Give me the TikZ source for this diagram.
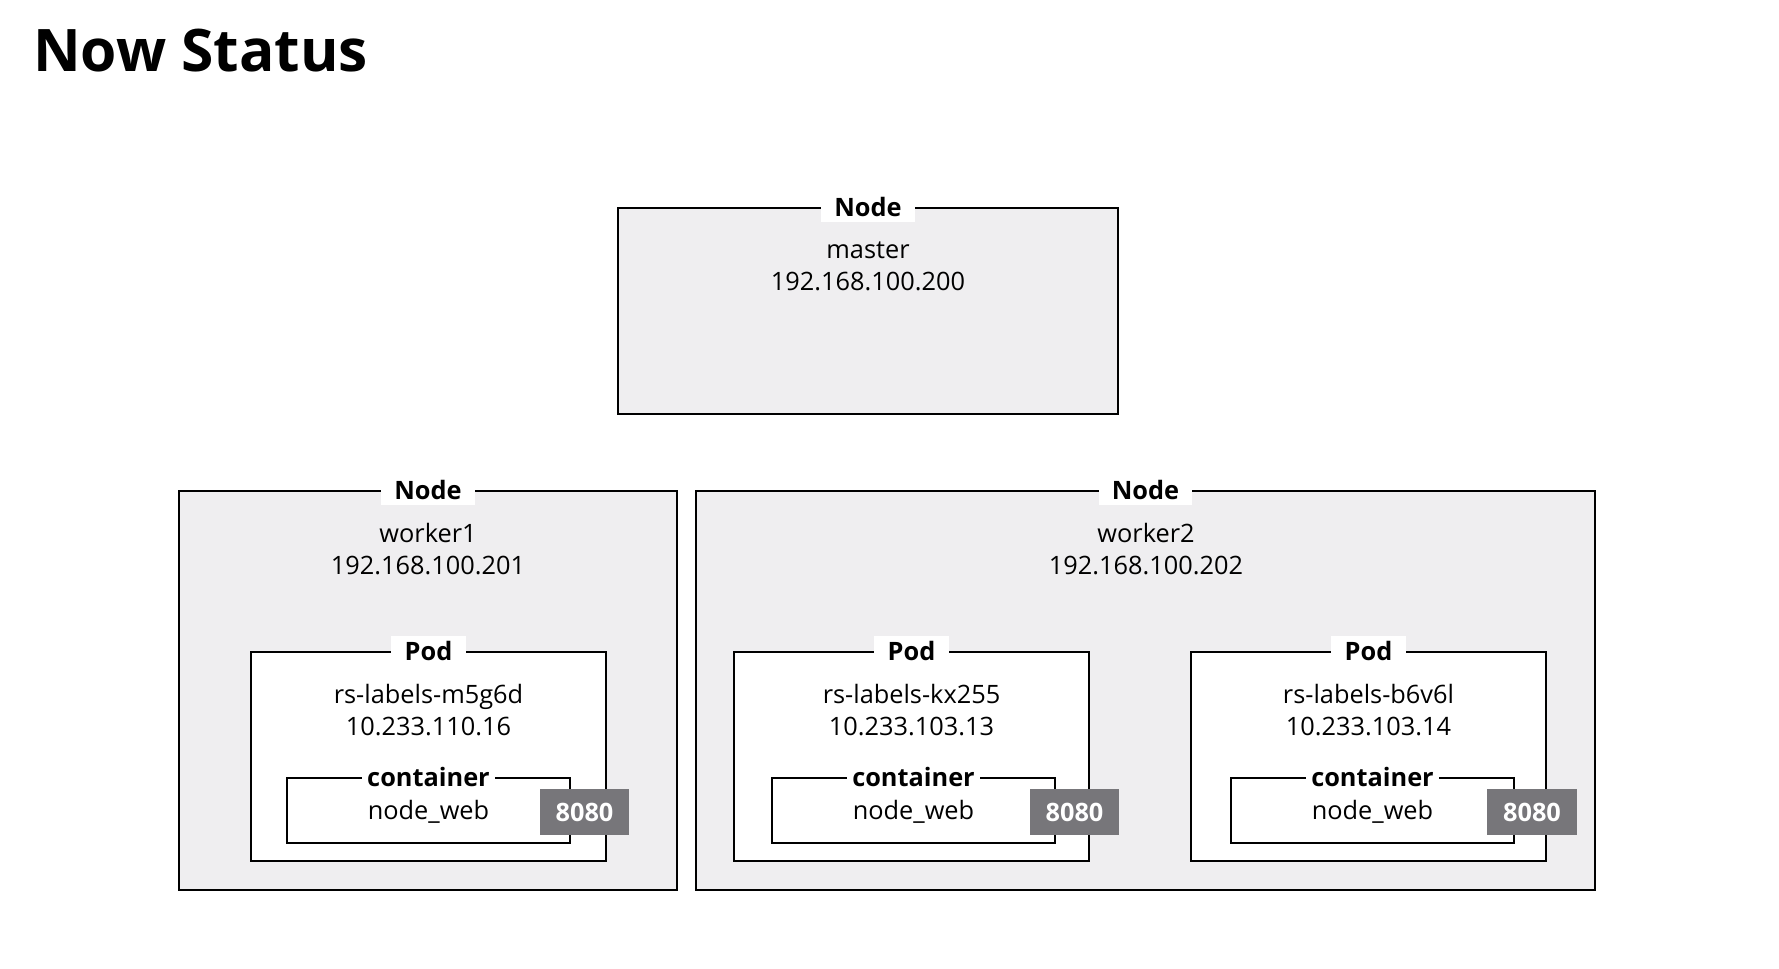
\documentclass[tikz,border=0pt]{standalone}
\usepackage{fontspec}
\setmainfont{Open Sans}
\usetikzlibrary{fit,calc}
\definecolor{nodegray}{HTML}{EFEEF0}
\definecolor{badgegray}{HTML}{77767A}
\tikzset{
  box/.style={draw=black, line width=1.5pt, inner sep=0pt},
  nodebox/.style={box, fill=nodegray},
  podbox/.style={box, fill=white},
  lbl/.style={fill=white, inner xsep=10pt, inner ysep=4pt, font=\fontsize{19}{22}\selectfont\bfseries},
  txt/.style={align=center, inner sep=0pt, font=\fontsize{19}{24}\selectfont},
  badge/.style={fill=badgegray, inner sep=0pt},
  badgetxt/.style={text=white, inner sep=0pt, font=\fontsize{19}{22}\selectfont\bfseries}
}
\begin{document}
\begin{tikzpicture}[x=0.75pt,y=-0.75pt]
\useasboundingbox (0,0) rectangle (1779,969);
\node[anchor=base west, inner sep=0pt, font=\fontsize{44}{52}\selectfont\bfseries] (title) at (33,72) {Now Status};

% master
\node[nodebox, fit={(618,208)(1118,414)}] (master) {};
\node[lbl] (masterlbl) at (master.north) {Node};
\node[txt] (mastertxt) at (868,266) {master\\192.168.100.200};

% worker1
\node[nodebox, fit={(179,491)(677,890)}] (w1) {};
\node[lbl] (w1lbl) at (w1.north) {Node};
\node[txt] (w1txt) at (428,549) {worker1\\192.168.100.201};

% worker2
\node[nodebox, fit={(696,491)(1595,890)}] (w2) {};
\node[lbl] (w2lbl) at (w2.north) {Node};
\node[txt] (w2txt) at (1146,549) {worker2\\192.168.100.202};

% pods
\foreach \n/\qa/\qb/\qname/\qip/\qc/\qd/\qe/\qf in {
  a/251/606/rs-labels-m5g6d/10.233.110.16/287/570/540/629,
  b/734/1089/rs-labels-kx255/10.233.103.13/772/1055/1030/1119,
  c/1191/1546/rs-labels-b6v6l/10.233.103.14/1231/1514/1487/1577}{
  \node[podbox, fit={(\qa,652)(\qb,861)}] (pod\n) {};
  \node[lbl] (pod\n lbl) at (pod\n.north) {Pod};
  \node[txt] (pod\n txt) at ($(pod\n.north)+(0,59)$) {\qname\\\qip};
  \node[podbox, fit={(\qc,778)(\qd,843)}] (cont\n) {};
  \node[lbl, inner xsep=4pt, inner ysep=0pt] (cont\n lbl) at (cont\n.north) {container};
  \node[txt] (cont\n txt) at ($(cont\n.north)+(0,35)$) {node\_web};
  \node[badge, fit={(\qe,789)(\qf,835)}] (badge\n) {};
  \node[badgetxt] (badge\n txt) at (badge\n.center) {8080};
}
\end{tikzpicture}
\end{document}
